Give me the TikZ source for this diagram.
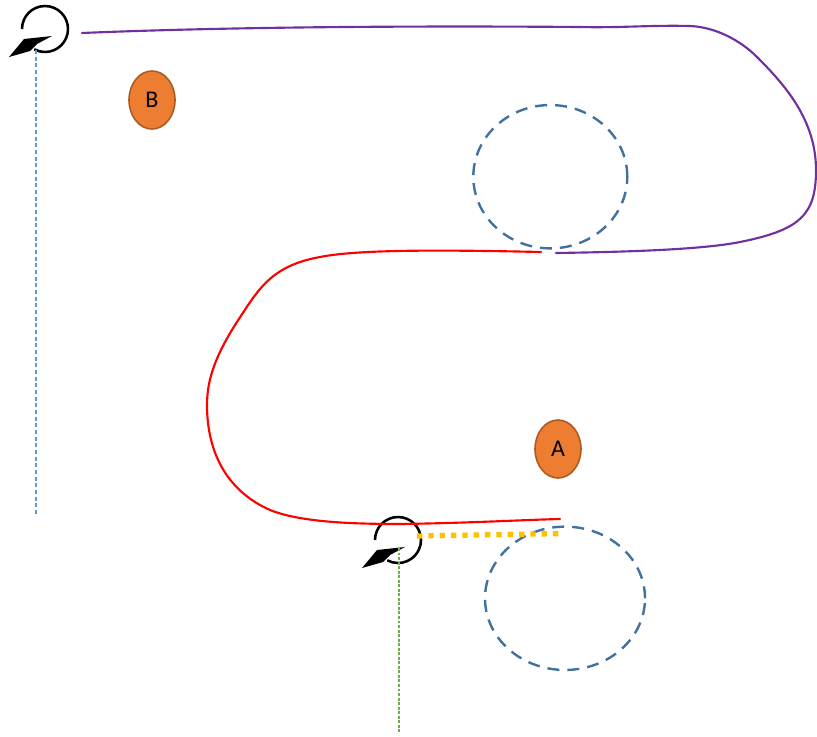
\documentclass[tikz,border=0pt]{standalone}
\usepackage{fontspec}
\setmainfont{Carlito}
\usetikzlibrary{shapes.geometric}
\definecolor{purp}{HTML}{7030A0}
\definecolor{cblue}{HTML}{41719C}
\definecolor{lblue}{HTML}{5B9BD5}
\definecolor{lgreen}{HTML}{70AD47}
\definecolor{gold}{HTML}{FFC000}
\definecolor{orfill}{HTML}{ED7D31}
\definecolor{ordraw}{HTML}{AE5A21}
\tikzset{
  ovalnode/.style={ellipse, draw=ordraw, line width=1.2pt, fill=orfill,
    minimum width=34.5pt, minimum height=43.5pt, inner sep=0pt,
    font=\fontsize{18}{20}\selectfont},
  dashcircle/.style={ellipse, draw=cblue, line width=1.8pt,
    dash pattern=on 9pt off 6pt, inner sep=0pt},
  curvepath/.style={line width=1.6pt, line cap=round, line join=round},
  rotsym/.pic={
    \draw[line width=1.9pt] (-23,0) arc[start angle=180, end angle=478, radius=23];
    \fill (-36,28) -- (-21,10) -- (7,7) -- (-8,15) -- (-15,22) -- cycle;
  }
}
\begin{document}
\begin{tikzpicture}[x=0.75pt, y=-0.75pt]
\useasboundingbox (0,0) rectangle (817,736);

% dashed circles
\node[dashcircle, minimum width=115.5pt, minimum height=107.5pt] (c1) at (550.3,176.7) {};
\node[dashcircle, minimum width=120pt, minimum height=107.5pt] (c2) at (565,598.3) {};

% ovals
\node[ovalnode] (B) at (152,100) {B};
\node[ovalnode] (A) at (558,449) {A};

% rotation symbols
\pic (r1) at (45,29) {rotsym};
\pic (r2) at (398,540) {rotsym};

% guide lines
\coordinate (t1) at (36,50);
\coordinate (t2) at (36,516);
\draw[lblue, line width=0.8pt, dash pattern=on 3pt off 2pt] (t1) -- (t2);
\coordinate (g1) at (399,548);
\coordinate (g2) at (399,733);
\draw[lgreen, line width=0.8pt, dash pattern=on 2.2pt off 1.2pt] (g1) -- (g2);

% yellow dotted
\coordinate (y1) at (417,536);
\coordinate (y2) at (564,533.5);
\draw[gold, line width=4pt, dash pattern=on 4pt off 4.5pt] (y1) -- (y2);

% purple curve
\coordinate (p0) at (82,33);
\coordinate (p1) at (580,27);
\coordinate (p2) at (690,26);
\coordinate (p2b) at (757,57);
\coordinate (p3) at (816,170);
\coordinate (p4) at (740,242);
\coordinate (p5) at (556,253);
\draw[purp, curvepath] (p0) .. controls (250,26) and (450,26) .. (p1)
  .. controls (620,28) and (650,25) .. (p2)
  .. controls (715,27) and (740,40) .. (p2b)
  .. controls (785,85) and (816,120) .. (p3)
  .. controls (816,215) and (800,230) .. (p4)
  .. controls (700,250) and (620,252) .. (p5);

% red curve
\coordinate (q0) at (541,252);
\coordinate (q1) at (320,257);
\coordinate (q2) at (235,325);
\coordinate (q3) at (207,405);
\coordinate (q4) at (270,510);
\coordinate (q5) at (400,524);
\coordinate (q6) at (560,519);
\draw[red, curvepath] (q0) .. controls (450,250) and (360,249) .. (q1)
  .. controls (270,266) and (258,290) .. (q2)
  .. controls (215,357) and (207,380) .. (q3)
  .. controls (207,450) and (225,490) .. (q4)
  .. controls (300,522) and (350,524) .. (q5)
  .. controls (470,523) and (520,520) .. (q6);
\end{tikzpicture}
\end{document}
